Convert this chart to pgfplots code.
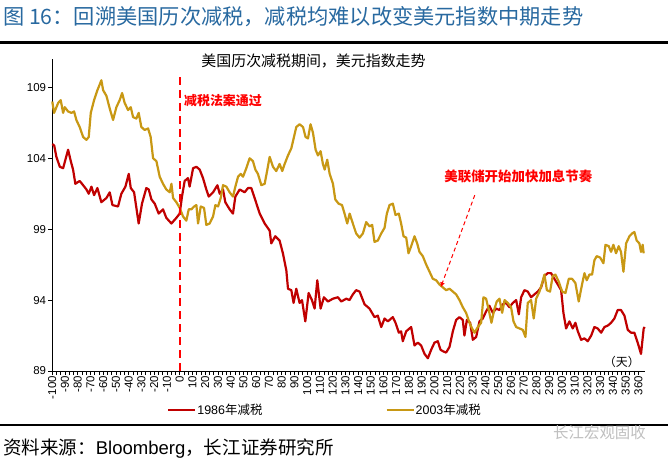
\documentclass[border=0pt]{standalone}
\usepackage{pgfplots}
\pgfplotsset{compat=1.18}
\usepackage{fontspec}
\setmainfont{Liberation Sans}
\newfontfamily\cjk{Noto Sans CJK SC}
\usetikzlibrary{arrows.meta}
\definecolor{redS}{RGB}{192,0,0}
\definecolor{goldS}{RGB}{200,152,20}
\definecolor{titleblue}{RGB}{40,105,160}
\definecolor{annred}{RGB}{255,0,0}

\pgfplotstableread{
x y
-100 105.0
-98.5 104.9
-96.8 104.1
-94.1 103.4
-91.5 103.3
-89.7 103.9
-87.6 104.6
-85.5 103.8
-83.7 103.2
-81.9 102.2
-78.5 102.4
-75.8 102.1
-73.2 101.8
-71.4 101.5
-69.3 102.0
-67.2 101.4
-64.6 101.9
-61.5 100.9
-57.5 101.2
-54.9 101.6
-52.8 100.7
-48.4 100.6
-45.8 101.5
-42.6 102.0
-40.0 102.9
-38.4 101.9
-35.8 101.6
-32.2 99.4
-29.6 100.8
-26.2 101.9
-24.3 101.8
-22.2 101.1
-19.6 100.8
-16.5 100.1
-13.1 100.4
-10.5 99.8
-6.5 99.4
-2.6 99.8
0 100.1
1.8 101.3
3.9 102.4
6.5 102.6
7.8 102.0
10.5 103.3
13.1 103.4
15.7 103.2
18.3 102.6
20.9 101.8
22.8 101.3
26.2 101.6
29.6 102.1
31.4 101.5
34.0 101.8
35.8 100.9
39.2 100.4
41.8 100.1
43.7 101.3
47.1 101.8
51.0 101.6
53.6 101.9
56.2 101.9
58.8 101.2
62.8 100.1
66.7 99.4
70.6 98.9
71.9 98.0
75.0 98.5
78.4 98.2
81.0 97.3
83.7 96.1
85.0 94.8
87.6 94.7
89.4 93.8
91.5 94.8
94.1 93.8
96.0 94.0
98.6 92.5
101.2 94.5
103.8 94.0
105.9 93.4
108.0 95.4
110.6 93.4
113.2 94.2
116.4 93.9
120.3 94.1
124.2 94.2
126.8 93.9
130.8 94.1
133.3 94.0
135.9 94.4
138.5 94.7
141.2 94.6
145.1 93.7
149.0 93.4
152.9 92.8
155.5 92.9
158.2 92.1
160.8 92.7
163.4 92.5
167.3 92.8
169.4 92.4
172.0 91.7
173.8 91.8
175.1 91.1
177.8 91.8
181.7 92.1
184.3 90.8
186.9 91.0
189.5 90.8
192.2 90.2
194.8 89.9
197.4 90.5
200.0 91.0
202.6 91.1
204.7 90.5
206.5 90.4
209.1 90.3
211.8 90.7
214.4 91.8
217.0 92.6
219.6 92.8
222.2 92.6
223.5 91.5
225.4 92.6
228.0 92.4
230.1 91.2
232.7 91.4
235.3 92.5
237.9 92.7
240.5 93.2
243.1 93.6
245.8 93.1
248.4 93.4
251.0 93.3
253.6 93.7
256.2 93.8
258.8 93.5
261.5 93.8
264.1 94.0
266.2 93.0
268.0 94.2
270.6 94.7
273.2 94.6
275.8 94.2
278.4 94.4
281.1 94.6
283.7 94.9
286.3 95.7
288.9 95.9
291.5 95.9
294.1 95.5
296.8 95.1
299.4 94.7
301.2 93.1
303.3 92.0
305.9 92.5
308.5 92.0
310.6 92.4
312.5 91.8
315.1 91.2
317.7 91.3
320.3 91.1
323.0 91.5
325.5 92.1
328.1 92.0
330.8 91.7
333.4 92.1
336.0 92.2
338.6 92.4
341.2 92.7
343.8 93.3
346.4 93.3
349.1 92.9
351.7 91.9
354.3 91.7
356.9 91.7
359.5 91.0
362.1 90.2
364.2 92.0
365 92.1
}\redtab

\pgfplotstableread{
x y
-100 108.0
-98.6 107.2
-95.4 107.9
-93.4 108.1
-91.5 107.2
-90.2 107.6
-87.6 107.3
-85.0 107.2
-82.9 107.3
-81.1 106.7
-78.5 106.2
-75.8 105.5
-73.2 105.3
-71.4 105.5
-69.8 107.2
-67.2 108.1
-64.6 108.8
-62.8 109.2
-61.5 109.5
-60.1 108.8
-57.5 108.4
-54.9 107.5
-52.3 106.7
-49.7 107.6
-47.1 108.1
-45.2 108.6
-43.2 107.9
-40.5 107.4
-38.4 107.6
-36.6 106.9
-34.0 106.8
-32.2 107.2
-30.1 106.2
-27.5 106.0
-24.8 106.1
-22.8 105.5
-20.9 104.0
-18.3 103.8
-15.7 102.7
-13.1 102.2
-10.5 101.8
-7.8 101.6
-6.5 102.2
-5.2 101.2
-2.6 100.9
0 100.5
2.6 99.9
5.2 99.6
7.1 100.4
9.2 100.4
11.3 100.6
13.1 100.7
14.4 99.4
16.5 100.6
19.1 100.5
20.9 99.3
23.5 99.4
26.2 99.9
28.0 100.7
30.1 100.6
32.2 101.2
34.0 102.1
36.6 102.0
39.2 101.6
41.8 101.3
43.7 102.0
45.8 102.7
47.9 102.9
49.7 102.7
52.3 103.3
54.9 104.0
57.5 103.8
59.4 103.2
61.4 102.9
64.1 102.1
66.7 102.2
68.8 103.2
70.6 104.1
73.2 103.4
75.8 103.1
78.4 103.6
80.5 103.1
82.4 103.6
85.0 104.2
87.6 104.7
89.7 105.5
91.5 106.2
94.1 106.4
96.8 106.2
98.8 105.5
100.7 105.4
102.7 106.4
104.6 105.8
106.7 104.6
108.5 104.2
110.6 104.5
112.4 103.6
113.8 103.2
115.8 103.9
117.7 102.9
120.3 102.2
122.1 101.1
124.7 100.8
127.4 100.7
129.4 100.1
131.5 99.4
133.4 100.1
135.9 99.4
138.5 98.7
141.2 98.4
143.8 98.7
146.4 99.5
149.0 99.2
151.1 99.3
152.9 98.1
155.5 98.2
158.2 98.7
160.8 99.1
162.6 100.1
164.7 100.7
167.3 100.8
169.4 100.0
172.0 100.1
173.8 99.4
175.7 98.5
177.8 98.4
179.6 97.3
181.7 97.8
184.3 98.5
186.4 98.0
188.2 97.4
190.8 97.1
193.5 96.5
196.1 96.0
198.7 95.5
201.3 95.4
203.9 95.1
206.5 94.9
209.1 94.7
211.8 94.8
214.4 94.6
217.0 94.4
219.6 94.0
222.2 93.5
224.8 93.1
227.5 92.4
229.5 92.0
231.4 91.7
234.0 92.1
236.6 92.4
238.4 94.2
240.5 94.1
242.6 93.3
244.7 92.4
247.1 93.4
248.9 93.9
251.0 94.1
253.1 93.1
255.0 94.0
257.5 93.8
260.1 93.5
262.0 92.5
264.1 92.1
266.7 92.0
269.3 91.9
271.4 91.4
273.2 93.8
275.8 94.0
277.9 92.7
279.8 94.1
282.4 94.6
284.5 95.2
286.3 95.8
288.2 94.7
290.7 94.6
292.8 95.7
294.9 95.8
297.5 95.3
300.2 94.6
302.8 94.5
305.4 95.5
308.0 95.5
310.6 95.2
313.2 93.9
315.8 95.1
317.7 95.9
319.5 95.4
321.6 95.8
323.7 95.8
325.5 96.8
327.3 97.1
330.0 97.0
332.6 96.6
334.2 97.9
336.8 97.8
338.6 97.4
340.4 97.9
342.5 97.3
344.6 97.8
346.4 97.4
348.3 96.0
350.4 98.0
353.0 98.5
355.1 98.7
356.9 98.8
358.7 98.2
360.8 98.0
362.1 97.4
363.4 97.9
364.2 97.3
}\goldtab

\begin{document}
\begin{tikzpicture}
\useasboundingbox (0bp,0bp) rectangle (668bp,462bp);
\node[anchor=west, inner sep=0] at (3bp,445bp) {\fontsize{21.3}{24}\selectfont\cjk\color{titleblue}图 16：回溯美国历次减税，减税均难以改变美元指数中期走势};
\draw[line width=2.5bp] (0bp,419.3bp) -- (668bp,419.3bp);
\node[inner sep=0] at (313.5bp,401bp) {\fontsize{15}{18}\selectfont\cjk 美国历次减税期间，美元指数走势};
\begin{axis}[
  at={(52.3bp,91bp)}, anchor=south west,
  width=592.4bp, height=312bp, scale only axis,
  xmin=-100, xmax=365, ymin=89, ymax=111,
  axis x line*=bottom, axis y line*=left,
  xtick={-100,-90,...,360}, ytick={89,94,...,109},
  minor x tick num=2,
  tick align=outside, major tick length=4bp, minor tick length=4bp,
  tick style={black, line width=0.8bp},
  axis line style={black, line width=0.8bp},
  xticklabel style={rotate=90, anchor=east, font=\fontsize{11.5}{13}\selectfont, inner sep=1bp},
  yticklabel style={font=\fontsize{11.5}{13}\selectfont, inner sep=2bp},
  /pgf/number format/assume math mode=true,
  clip=false,
  legend columns=2,
  legend style={at={(0.1936,-0.125)}, anchor=west, draw=none, fill=none,
    font=\fontsize{12.5}{14}\selectfont, inner sep=0pt,
    nodes={inner sep=1bp},
    /tikz/every even column/.append style={column sep=122bp}},
  legend image code/.code={\draw[#1] (0bp,0bp) -- (27bp,0bp);},
]
\addplot[redS, line width=2.2bp, line join=round] table[x=x,y=y] {\redtab};
\addlegendentry{1986{\cjk 年减税}}
\addplot[goldS, line width=2.2bp, line join=round] table[x=x,y=y] {\goldtab};
\addlegendentry{2003{\cjk 年减税}}
\draw[annred, line width=2bp, dash pattern=on 8bp off 5bp] (axis cs:0,89) -- (axis cs:0,110.0);
\node[anchor=west, inner sep=0, text=annred] at (axis cs:3.3,108.1) {\fontsize{13}{15}\selectfont\cjk\bfseries 减税法案通过};
\node[inner sep=0, text=annred] at (axis cs:265.8,102.75) {\fontsize{13.5}{15}\selectfont\cjk\bfseries 美联储开始加快加息节奏};
\draw[annred, line width=1bp, dash pattern=on 4bp off 3bp, -{Latex[length=5bp,width=5bp]}] (axis cs:231.6,101.4) -- (axis cs:204.9,94.9);
\node[inner sep=0] at (axis cs:347,89.67) {\fontsize{12}{14}\selectfont\cjk （天）};
\end{axis}
\draw[line width=2.5bp] (0bp,37bp) -- (668bp,37bp);
\node[anchor=west, inner sep=0] at (3bp,13bp) {\fontsize{18.6}{21}\selectfont{\cjk 资料来源：}Bloomberg{\cjk ，长江证券研究所}};
\node[anchor=west, inner sep=0, text=gray!50] at (553bp,29bp) {\fontsize{15.5}{18}\selectfont\cjk 长江宏观固收};
\end{tikzpicture}
\end{document}
